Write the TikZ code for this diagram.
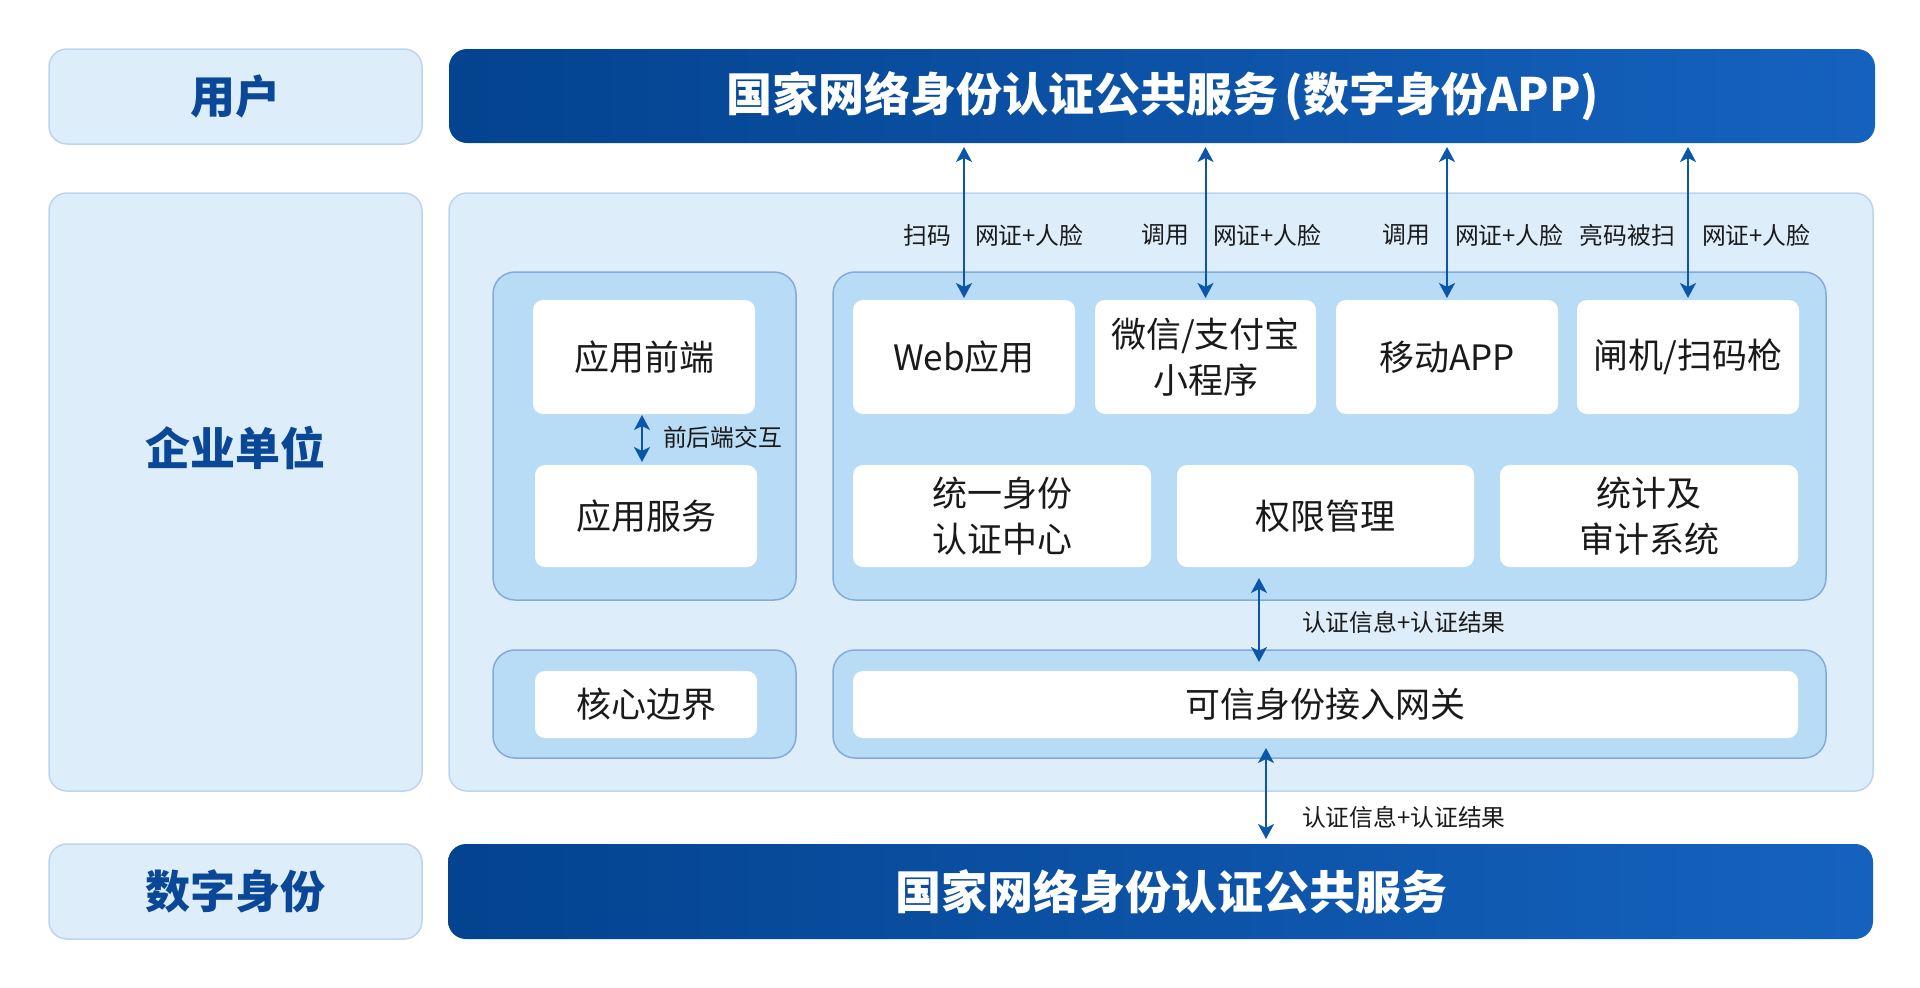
\documentclass[tikz,border=0pt]{standalone}
\usepackage{fontspec}
\setmainfont{Noto Sans CJK SC}
\usetikzlibrary{arrows.meta}
\definecolor{dkL}{HTML}{03438F}
\definecolor{dkR}{HTML}{1562BE}
\definecolor{lightfill}{HTML}{DDEEFA}
\definecolor{lightline}{HTML}{BED4EC}
\definecolor{grpfill}{HTML}{B8DCF6}
\definecolor{grpline}{HTML}{86AAD8}
\definecolor{lbl}{HTML}{0A4797}
\definecolor{arr}{HTML}{0C56A9}
\definecolor{txt}{HTML}{1A1A1A}
\tikzset{
  every node/.style={inner sep=0pt, outer sep=0pt},
  side/.style={draw=lightline, line width=1.5pt, fill=lightfill, rounded corners=18pt,
    font=\fontsize{45}{52}\selectfont\bfseries, text=lbl},
  sidetext/.style={font=\fontsize{45}{52}\selectfont\bfseries, text=lbl},
  bar/.style={rounded corners=18pt, left color=dkL, right color=dkR, text=white,
    font=\fontsize{46}{54}\selectfont\bfseries},
  outer/.style={draw=lightline, line width=1.5pt, fill=lightfill, rounded corners=18pt},
  grp/.style={draw=grpline, line width=1.5pt, fill=grpfill, rounded corners=22pt},
  wbox/.style={fill=white, rounded corners=10pt, text=txt,
    font=\fontsize{35}{46}\selectfont, align=center},
  lab/.style={font=\fontsize{23.8}{28}\selectfont, text=txt},
  biarrow/.style={draw=arr, line width=2pt,
    {Stealth[length=15pt,width=16pt,inset=4pt]}-{Stealth[length=15pt,width=16pt,inset=4pt]}}
}
\begin{document}
\begin{tikzpicture}[x=1pt,y=-1pt]
\useasboundingbox[fill=white] (0,0) rectangle (1920,988);

% left column
\node[side, minimum width=373pt, minimum height=95pt] (user) at (235.5,96.5) {用户};
\node[outer, minimum width=373pt, minimum height=598pt] (ent) at (235.5,492) {};
\node[sidetext] (entt) at (235.5,448) {企业单位};
\node[side, minimum width=373pt, minimum height=95pt] (did) at (235.5,891.5) {数字身份};

% bars
\node[bar, minimum width=1426pt, minimum height=94pt] (topbar) at (1162,96) {\hspace{2pt}国家网络身份认证公共服务\hspace{6pt}(数字身份APP)};
\node[bar, minimum width=1425pt, minimum height=95pt] (botbar) at (1160.5,891.5) {\hspace{21pt}国家网络身份认证公共服务};

% container
\node[outer, minimum width=1424pt, minimum height=598pt] (cont) at (1161,492) {};

% groups
\node[grp, minimum width=303pt, minimum height=328pt] (lgrp) at (644.5,436) {};
\node[grp, minimum width=993pt, minimum height=328pt] (rgrp) at (1329.5,436) {};
\node[grp, minimum width=303pt, minimum height=108pt] (cgrp) at (644.5,704) {};
\node[grp, minimum width=993pt, minimum height=108pt] (gwgrp) at (1329.5,704) {};

% white boxes
\node[wbox, minimum width=222pt, minimum height=114pt] (fe) at (644,357) {应用前端};
\node[wbox, minimum width=222pt, minimum height=102pt] (be) at (646,516) {应用服务};
\node[wbox, minimum width=222pt, minimum height=114pt] (web) at (964,357) {Web应用};
\node[wbox, minimum width=221pt, minimum height=114pt] (wx) at (1205.5,357) {微信/支付宝\\小程序};
\node[wbox, minimum width=222pt, minimum height=114pt] (app) at (1447,357) {移动APP};
\node[wbox, minimum width=222pt, minimum height=114pt] (gate) at (1688,357) {闸机/扫码枪};
\node[wbox, minimum width=298pt, minimum height=102pt] (uid) at (1002,516) {统一身份\\认证中心};
\node[wbox, minimum width=297pt, minimum height=102pt] (perm) at (1325.5,516) {权限管理};
\node[wbox, minimum width=298pt, minimum height=102pt] (stat) at (1649,516) {统计及\\审计系统};
\node[wbox, minimum width=222pt, minimum height=67pt] (core) at (646,704.5) {核心边界};
\node[wbox, minimum width=945pt, minimum height=67pt] (gw) at (1325.5,704.5) {可信身份接入网关};

% top arrows
\foreach \n in {web,wx,app,gate}{
  \draw[biarrow, shorten <=4pt, shorten >=2pt] (topbar.south -| \n.north) -- (\n.north);
}
% labels for top arrows
\node[lab, anchor=east] (l1a) at (951,235) {扫码};
\node[lab, anchor=west] (l1b) at (975,235) {网证+人脸};
\node[lab, anchor=east] (l2a) at (1189,235) {调用};
\node[lab, anchor=west] (l2b) at (1213,235) {网证+人脸};
\node[lab, anchor=east] (l3a) at (1430,235) {调用};
\node[lab, anchor=west] (l3b) at (1455,235) {网证+人脸};
\node[lab, anchor=east] (l4a) at (1675,235) {亮码被扫};
\node[lab, anchor=west] (l4b) at (1702,235) {网证+人脸};

% front/back arrow
\draw[biarrow, shorten <=1pt, shorten >=3pt] ([xshift=-2pt]fe.south) -- ([xshift=-4pt]be.north);
\node[lab, anchor=west] (lfb) at (663,437) {前后端交互};

% middle arrow
\draw[biarrow] ([xshift=-70.5pt,yshift=22pt]rgrp.south) -- ([xshift=-70.5pt,yshift=-12pt]gwgrp.north);
\node[lab, anchor=west] (lm) at (1302,622) {认证信息+认证结果};

% bottom arrow
\draw[biarrow] ([xshift=-63.5pt,yshift=10pt]gwgrp.south) -- ([xshift=105.5pt,yshift=5pt]botbar.north);
\node[lab, anchor=west] (lb) at (1302,817) {认证信息+认证结果};
\end{tikzpicture}
\end{document}
